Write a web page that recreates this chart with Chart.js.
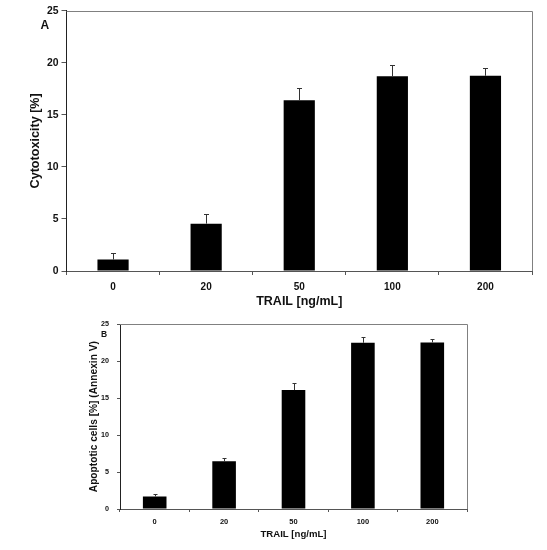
<!DOCTYPE html>
<html>
<head>
<meta charset="utf-8">
<script src="https://cdn.jsdelivr.net/npm/chart.js@4"></script>
<style>
  html, body { margin: 0; padding: 0; background: #fff; }
  body { width: 547px; height: 550px; position: relative; overflow: hidden; }
  #cA { position: absolute; left: 0; top: 0; }
  #cB { position: absolute; left: 0; top: 312px; }
</style>
</head>
<body>
<canvas id="cA" width="547" height="312"></canvas>
<canvas id="cB" width="547" height="238"></canvas>
<script>
// ---- data ----
const categories = ['0', '20', '50', '100', '200'];
const cytotoxicity = [1.1, 4.55, 16.4, 18.7, 18.75];
const cytotoxicityErr = [0.62, 0.9, 1.15, 1.05, 0.75];
const apoptotic = [1.7, 6.45, 16.1, 22.5, 22.55];
const apoptoticErr = [0.32, 0.48, 0.9, 0.8, 0.45];
const yTicks = [0, 5, 10, 15, 20, 25];
const xTitle = 'TRAIL [ng/mL]';
const yTitleA = 'Cytotoxicity [%]';
const yTitleB = 'Apoptotic cells [%] (Annexin V)';

const FAMILY = '"Liberation Sans", Arial, sans-serif';

const errorBarPlugin = {
  id: 'errorBars',
  afterDatasetsDraw(chart, args, opts) {
    const ctx = chart.ctx;
    const yScale = chart.scales.y;
    chart.data.datasets.forEach((ds, di) => {
      const meta = chart.getDatasetMeta(di);
      meta.data.forEach((bar, i) => {
        const v = ds.data[i];
        const e = ds.errors[i];
        const yTop = yScale.getPixelForValue(v + e);
        const yBar = yScale.getPixelForValue(v);
        ctx.save();
        ctx.strokeStyle = '#333';
        ctx.lineWidth = 1;
        ctx.beginPath();
        const x = Math.round(bar.x) + 0.5;
        ctx.moveTo(x, yBar);
        ctx.lineTo(x, Math.round(yTop) + 0.5);
        ctx.moveTo(x - opts.cap, Math.round(yTop) + 0.5);
        ctx.lineTo(x + opts.cap, Math.round(yTop) + 0.5);
        ctx.stroke();
        ctx.restore();
      });
    });
  }
};

const framePlugin = {
  id: 'frame',
  afterDraw(chart, args, opts) {
    const a = chart.chartArea;
    const ctx = chart.ctx;
    ctx.save();
    ctx.strokeStyle = '#808080';
    ctx.lineWidth = 1;
    ctx.beginPath();
    ctx.moveTo(a.left, Math.round(a.top) + 0.5);
    ctx.lineTo(Math.round(a.right) + 0.5, Math.round(a.top) + 0.5);
    ctx.lineTo(Math.round(a.right) + 0.5, a.bottom);
    ctx.stroke();
    ctx.fillStyle = '#111';
    ctx.font = 'bold ' + opts.size + 'px ' + FAMILY;
    ctx.textAlign = 'center';
    ctx.textBaseline = 'middle';
    ctx.fillText(opts.text, opts.x, opts.y);
    ctx.restore();
  }
};

function makeChart(canvas, values, errors, cfg) {
  return new Chart(canvas, {
    type: 'bar',
    data: {
      labels: categories,
      datasets: [{
        data: values,
        errors: errors,
        backgroundColor: '#000',
        borderWidth: 0,
        categoryPercentage: 1.0,
        barPercentage: cfg.barPct
      }]
    },
    options: {
      responsive: false,
      animation: false,
      devicePixelRatio: 1,
      layout: { padding: { left: 0, right: cfg.padRight, top: cfg.padTop, bottom: 0 } },
      plugins: {
        legend: { display: false },
        tooltip: { enabled: false },
        errorBars: { cap: cfg.cap },
        frame: cfg.label
      },
      scales: {
        x: {
          type: 'category',
          offset: true,
          grid: { offset: true, drawOnChartArea: false, drawTicks: true, tickLength: cfg.xTickLen, color: '#555' },
          border: { display: true, color: '#555', width: 1 },
          ticks: { color: '#111', font: { family: FAMILY, size: cfg.xTickFont, weight: 'bold' }, padding: cfg.xTickPad, maxRotation: 0 },
          title: { display: true, text: xTitle, color: '#111', font: { family: FAMILY, size: cfg.xTitleFont, weight: 'bold' }, padding: { top: 0, bottom: cfg.xTitlePad } },
          afterFit(scale) { scale.height = cfg.xHeight; }
        },
        y: {
          min: 0, max: 25,
          afterBuildTicks(scale) { scale.ticks = yTicks.map(v => ({ value: v })); },
          grid: { drawOnChartArea: false, drawTicks: true, tickLength: cfg.yTickLen, color: '#555' },
          border: { display: true, color: '#222', width: 1 },
          ticks: { color: '#111', font: { family: FAMILY, size: cfg.yTickFont, weight: 'bold' }, padding: cfg.yTickPad },
          title: { display: true, text: cfg.yTitle, color: '#111', font: { family: FAMILY, size: cfg.yTitleFont, weight: 'bold' }, padding: { top: cfg.yTitlePad, bottom: 0 } },
          afterFit(scale) { scale.width = cfg.yWidth; }
        }
      }
    },
    plugins: [errorBarPlugin, framePlugin]
  });
}

makeChart(document.getElementById('cA'), cytotoxicity, cytotoxicityErr, {
  barPct: 0.335, cap: 2.5,
  padRight: 15, padTop: 10.7,
  xTickLen: 4, xTickFont: 10, xTickPad: 6,
  xTitleFont: 12.5, xTitlePad: 3, xHeight: 41,
  yTickLen: 5, yTickFont: 10.4, yTickPad: 3,
  yTitle: yTitleA, yTitleFont: 12.6, yTitlePad: 28.4, yWidth: 66.5,
  label: { text: 'A', x: 44.8, y: 26, size: 12 }
});

makeChart(document.getElementById('cB'), apoptotic, apoptoticErr, {
  barPct: 0.34, cap: 2,
  padRight: 80, padTop: 10,
  xTickLen: 3, xTickFont: 7.5, xTickPad: 5,
  xTitleFont: 9.6, xTitlePad: 10, xHeight: 41,
  yTickLen: 3, yTickFont: 7.2, yTickPad: 8,
  yTitle: yTitleB, yTitleFont: 10.2, yTitlePad: 87.7, yWidth: 120,
  label: { text: 'B', x: 104, y: 22.5, size: 8.5 }
});
</script>
</body>
</html>
